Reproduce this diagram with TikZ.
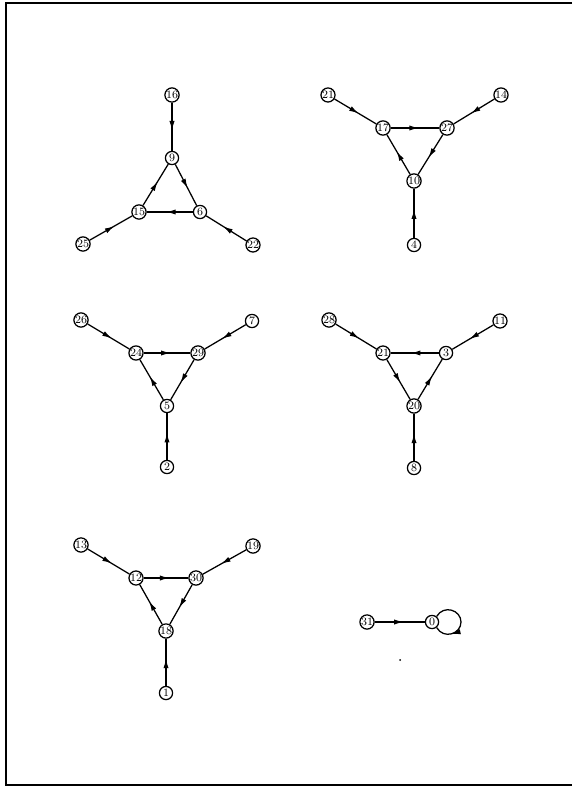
\documentclass[tikz,border=0pt]{standalone}
\usetikzlibrary{arrows.meta,decorations.markings}

\begin{document}
\begin{tikzpicture}[
                    x=0.25mm, y=-0.25mm,
                    vertex/.style={draw, circle, line width=0.9pt, minimum size=3.3mm, inner sep=0pt, font=\footnotesize, fill=white},
                    edge/.style={line width=0.9pt, postaction={decorate},
                        decoration={markings, mark=at position 0.58 with {\arrow{Latex[length=2.4mm,width=1.3mm]}}}},
                    loopedge/.style={line width=0.9pt, postaction={decorate},
                        decoration={markings, mark=at position 0.75 with {\arrow{Latex[length=2.4mm,width=1.3mm]}}}}
                ]
                    \useasboundingbox (0,0) rectangle (572,787);
                    \draw[line width=0.5mm] (572,3) -- (6,3) -- (6,785) -- (572,785);

                    % first triangle
                    \node[vertex] (n16) at (172,95) {16};
                    \node[vertex] (n9) at (172,158) {9};
                    \node[vertex] (n15) at (139,212) {15};
                    \node[vertex] (n6) at (200,212) {6};
                    \node[vertex] (n25) at (83,244) {25};
                    \node[vertex] (n22) at (253,245) {22};
                    \draw[edge] (n16) -- (n9);
                    \draw[edge] (n9) -- (n6);
                    \draw[edge] (n6) -- (n15);
                    \draw[edge] (n15) -- (n9);
                    \draw[edge] (n25) -- (n15);
                    \draw[edge] (n22) -- (n6);

                    % second triangle
                    \node[vertex] (n21a) at (328,95) {21};
                    \node[vertex] (n17) at (383,128) {17};
                    \node[vertex] (n27) at (447,128) {27};
                    \node[vertex] (n14) at (501,95) {14};
                    \node[vertex] (n10) at (414,181) {10};
                    \node[vertex] (n4) at (414,245) {4};
                    \draw[edge] (n21a) -- (n17);
                    \draw[edge] (n17) -- (n27);
                    \draw[edge] (n14) -- (n27);
                    \draw[edge] (n27) -- (n10);
                    \draw[edge] (n10) -- (n17);
                    \draw[edge] (n4) -- (n10);

                    % third triangle
                    \node[vertex] (n26) at (81,320) {26};
                    \node[vertex] (n24) at (136,353) {24};
                    \node[vertex] (n29) at (198,353) {29};
                    \node[vertex] (n7) at (252,321) {7};
                    \node[vertex] (n5) at (167,406) {5};
                    \node[vertex] (n2) at (167,467) {2};
                    \draw[edge] (n26) -- (n24);
                    \draw[edge] (n24) -- (n29);
                    \draw[edge] (n7) -- (n29);
                    \draw[edge] (n29) -- (n5);
                    \draw[edge] (n5) -- (n24);
                    \draw[edge] (n2) -- (n5);

                    % fourth triangle
                    \node[vertex] (n28) at (329,320) {28};
                    \node[vertex] (n21b) at (383,353) {21};
                    \node[vertex] (n3) at (446,353) {3};
                    \node[vertex] (n11) at (500,321) {11};
                    \node[vertex] (n20) at (414,406) {20};
                    \node[vertex] (n8) at (414,468) {8};
                    \draw[edge] (n28) -- (n21b);
                    \draw[edge] (n3) -- (n21b);
                    \draw[edge] (n11) -- (n3);
                    \draw[edge] (n21b) -- (n20);
                    \draw[edge] (n20) -- (n3);
                    \draw[edge] (n8) -- (n20);

                    % fifth triangle
                    \node[vertex] (n13) at (81,545) {13};
                    \node[vertex] (n12) at (136,578) {12};
                    \node[vertex] (n30) at (196,578) {30};
                    \node[vertex] (n19) at (253,546) {19};
                    \node[vertex] (n18) at (166,631) {18};
                    \node[vertex] (n1) at (166,693) {1};
                    \draw[edge] (n13) -- (n12);
                    \draw[edge] (n12) -- (n30);
                    \draw[edge] (n19) -- (n30);
                    \draw[edge] (n30) -- (n18);
                    \draw[edge] (n18) -- (n12);
                    \draw[edge] (n1) -- (n18);

                    % self loop
                    \node[vertex] (n31) at (367,622) {31};
                    \node[vertex] (n0) at (432,622) {0};
                    \coordinate (loopend) at (461,622);
                    \draw[edge] (n31) -- (n0);
                    \draw[loopedge] (n0.50) .. controls +(-60:14) and +(-90:12) .. (loopend)
                        .. controls +(90:12) and +(60:14) .. (n0.-50);
                    \fill (400,660) circle (1);
                \end{tikzpicture}
\end{document}
